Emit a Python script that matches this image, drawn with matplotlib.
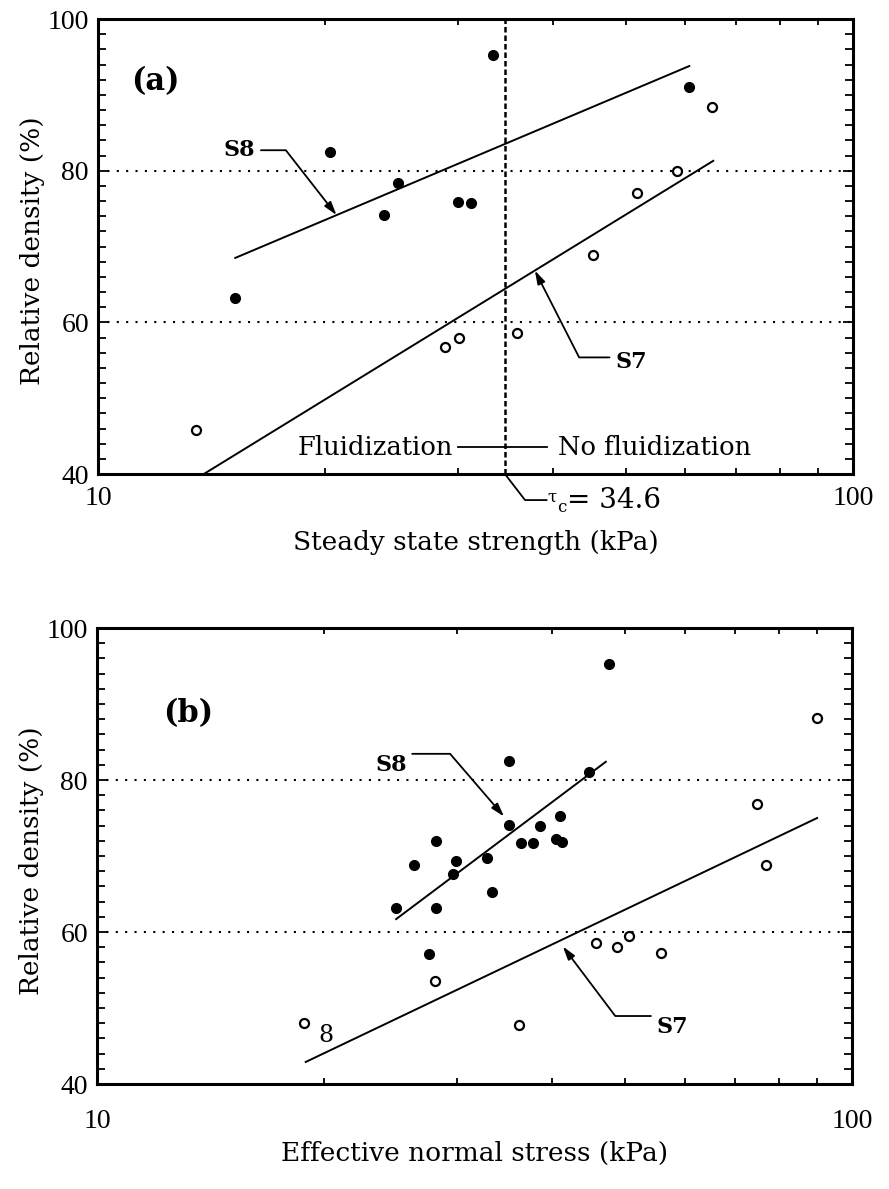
import numpy as np
import matplotlib
matplotlib.use("Agg")
import matplotlib.pyplot as plt
from matplotlib import ticker

plt.rcParams['font.family'] = ['DejaVu Serif']

# (a) steady state strength (kPa) vs relative density (%)
a_s8_x = [15.2, 20.3, 23.9, 25.0, 30.0, 31.2, 33.4, 60.7]
a_s8_y = [63.2, 82.5, 74.2, 78.4, 75.9, 75.7, 95.3, 91.0]
a_s7_x = [13.5, 28.8, 30.1, 35.9, 45.3, 51.7, 58.5, 65.1]
a_s7_y = [45.8, 56.7, 57.9, 58.6, 68.9, 77.1, 80.0, 88.4]
a_fit8_x = [15.2, 60.7]
a_fit8_y = [68.5, 93.8]
a_fit7_x = [13.86, 65.3]
a_fit7_y = [40.1, 81.3]
tau_c = 34.6

# (b) effective normal stress (kPa) vs relative density (%)
b_s8_x = [24.9, 26.3, 28.1, 28.1, 27.5, 29.6, 29.9, 32.9, 33.4, 35.1, 35.1,
          36.4, 37.8, 38.6, 40.5, 41.3, 41.1, 44.8, 47.7]
b_s8_y = [63.2, 68.8, 72.0, 63.2, 57.1, 67.6, 69.4, 69.8, 65.3, 82.5, 74.1,
          71.7, 71.7, 74.0, 72.2, 71.8, 75.3, 81.1, 95.3]
b_s7_x = [18.8, 28.0, 36.2, 45.8, 48.8, 50.7, 55.8, 74.8, 76.9, 89.9]
b_s7_y = [48.0, 53.6, 47.8, 58.6, 58.0, 59.5, 57.3, 76.9, 68.8, 88.1]
b_fit8_x = [24.9, 47.2]
b_fit8_y = [61.7, 82.4]
b_fit7_x = [18.9, 89.9]
b_fit7_y = [42.9, 75.0]

x_ticks = [10, 100]
x_minor = [20, 30, 40, 50, 60, 70, 80, 90]
y_ticks = [40, 60, 80, 100]
y_grid = [60, 80]


def on_line(fx, fy, x):
    return np.interp(np.log10(x), np.log10(fx), fy)


def style_axis(ax, xpad):
    ax.set_xscale('log')
    ax.set_xlim(10, 100)
    ax.set_ylim(40, 100)
    ax.set_xticks(x_ticks, labels=[str(t) for t in x_ticks])
    ax.set_xticks(x_minor, minor=True)
    ax.xaxis.set_minor_formatter(ticker.NullFormatter())
    ax.set_yticks(y_ticks)
    ax.set_yticks(np.arange(40, 101, 2), minor=True)
    ax.tick_params(which='both', direction='in', top=True, right=True, width=1.3,
                   labelsize=20, labelfontfamily='Liberation Serif')
    ax.tick_params(axis='y', which='major', length=7, pad=6.5)
    ax.tick_params(axis='y', which='minor', length=5.5)
    ax.tick_params(axis='x', which='major', length=0, pad=xpad)
    ax.tick_params(axis='x', which='minor', length=4)
    for s in ax.spines.values():
        s.set_linewidth(2.2)
    for g in y_grid:
        ax.axhline(g, color='k', lw=1.5, ls=(0, (1, 3.5)), zorder=1)
    ax.set_ylabel('Relative density (%)', fontsize=19)
    ax.yaxis.set_label_coords(-0.07, 0.49)


def tag(ax, label, tip, txt, angle, rel):
    ax.annotate(label, xy=tip, xytext=txt, ha='center', va='center',
                fontsize=16, fontweight='bold',
                arrowprops=dict(arrowstyle='-|>,head_length=0.5,head_width=0.15',
                                color='k', lw=1.3, relpos=rel, shrinkA=2, shrinkB=0,
                                connectionstyle=f'angle,angleA=0,angleB={angle},rad=0'))


fig = plt.figure(figsize=(8.89, 11.89), dpi=100)
ax1 = fig.add_axes([0.1102, 0.6013, 0.8493, 0.3827])
ax2 = fig.add_axes([0.1091, 0.0883, 0.8493, 0.3835])

# ---- panel (a)
style_axis(ax1, 8.5)
ax1.plot(a_fit8_x, a_fit8_y, color='k', lw=1.4)
ax1.plot(a_fit7_x, a_fit7_y, color='k', lw=1.4)
ax1.plot(a_s8_x, a_s8_y, 'o', color='k', ms=7, zorder=3)
ax1.plot(a_s7_x, a_s7_y, 'o', mfc='white', mec='k', mew=1.6, ms=6.5, zorder=3)
ax1.axvline(tau_c, color='k', lw=1.8, ls=(0, (2.2, 1.2)), zorder=2)
ax1.set_xlabel('Steady state strength (kPa)', fontsize=19, labelpad=14)
ax1.text(11.9, 91.8, '(a)', fontsize=22, fontweight='bold', ha='center', va='center')

tag(ax1, 'S8', (20.7, on_line(a_fit8_x, a_fit8_y, 20.7)), (15.4, 82.7), 128, (1, 0.5))
tag(ax1, 'S7', (37.9, on_line(a_fit7_x, a_fit7_y, 37.9)), (50.8, 54.8), 117, (0, 0.7))

ax1.text(29.5, 43.5, 'Fluidization', fontsize=18.5, ha='right', va='center')
ax1.text(40.7, 43.5, 'No fluidization', fontsize=18.5, ha='left', va='center')
ax1.plot([30.0, 39.3], [43.56, 43.56], color='k', lw=1.3)

# leader for tau_c below the axis
ax1.annotate('', xy=(tau_c, 40), xytext=(39.3, 36.57), annotation_clip=False,
             arrowprops=dict(arrowstyle='-', color='k', lw=1.3, shrinkA=0, shrinkB=0,
                             connectionstyle='angle,angleA=0,angleB=127.6,rad=0'))
ax1.text(39.9, 36.97, '\u03c4', fontsize=12, ha='center', va='center', clip_on=False)
ax1.text(41.1, 35.6, 'c', fontsize=12, ha='center', va='center', clip_on=False)
ax1.text(41.8, 36.57, '= 34.6', fontsize=20, ha='left', va='center', clip_on=False)

# ---- panel (b)
style_axis(ax2, 18)
ax2.plot(b_fit8_x, b_fit8_y, color='k', lw=1.4)
ax2.plot(b_fit7_x, b_fit7_y, color='k', lw=1.4)
ax2.plot(b_s8_x, b_s8_y, 'o', color='k', ms=7, zorder=3)
ax2.plot(b_s7_x, b_s7_y, 'o', mfc='white', mec='k', mew=1.6, ms=6.5, zorder=3)
ax2.set_xlabel('Effective normal stress (kPa)', fontsize=19, labelpad=5)
ax2.text(13.2, 88.8, '(b)', fontsize=22, fontweight='bold', ha='center', va='center')
ax2.text(20.1, 46.4, '8', fontsize=17, ha='center', va='center')

tag(ax2, 'S8', (34.6, 75.2), (24.5, 82.0), 130.7, (1, 1.0))
tag(ax2, 'S7', (41.4, 58.1), (57.8, 47.5), 127, (0, 1.0))

fig.savefig('out.png', dpi=100)
